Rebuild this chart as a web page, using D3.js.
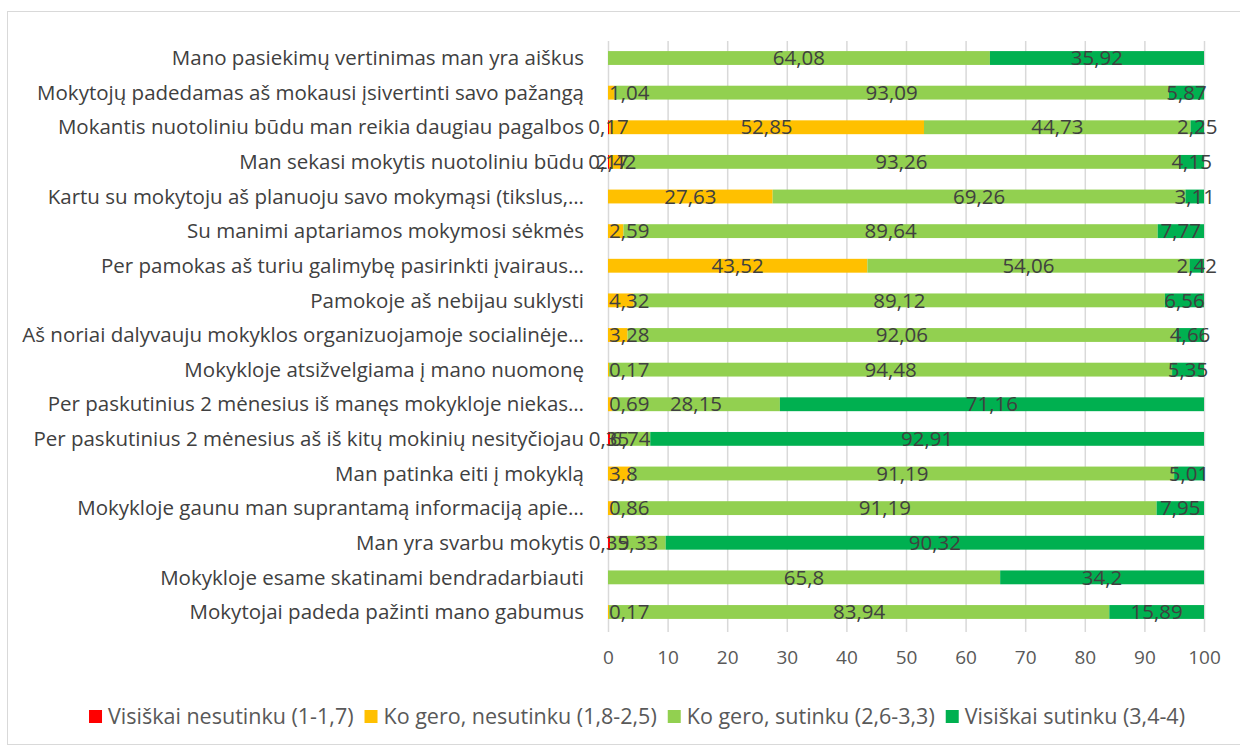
<!DOCTYPE html>
<html>
  <head>
    <meta charset="UTF-8" />
    <title>Mokinių apklausa</title>
    <script src="https://d3js.org/d3.v7.min.js"></script>
    <style>
      * {
        margin: 0;
        padding: 0;
        box-sizing: border-box;
      }
      body {
        background-color: #ffffff;
      }
      svg {
        display: block;
        font-family: "Open Sans", sans-serif;
      }
      .cat-label {
        fill: #404040;
        font-size: 20.5px;
      }
      .value-label {
        fill: #404040;
        font-size: 20.5px;
      }
      .tick text {
        fill: #595959;
        font-size: 19px;
      }
      .legend-text {
        fill: #595959;
        font-size: 21.5px;
      }
    </style>
  </head>
  <body>
    <svg id="chart" width="1240" height="747"></svg>
  </body>
  <script>
    const categories = [
      "Mano pasiekimų vertinimas man yra aiškus",
      "Mokytojų padedamas aš mokausi įsivertinti savo pažangą",
      "Mokantis nuotoliniu būdu man reikia daugiau pagalbos",
      "Man sekasi mokytis nuotoliniu būdu",
      "Kartu su mokytoju aš planuoju savo mokymąsi (tikslus,…",
      "Su manimi aptariamos mokymosi sėkmės",
      "Per pamokas aš turiu galimybę pasirinkti įvairaus…",
      "Pamokoje aš nebijau suklysti",
      "Aš noriai dalyvauju mokyklos organizuojamoje socialinėje…",
      "Mokykloje atsižvelgiama į mano nuomonę",
      "Per paskutinius 2 mėnesius iš manęs mokykloje niekas…",
      "Per paskutinius 2 mėnesius aš iš kitų mokinių nesityčiojau",
      "Man patinka eiti į mokyklą",
      "Mokykloje gaunu man suprantamą informaciją apie…",
      "Man yra svarbu mokytis",
      "Mokykloje esame skatinami bendradarbiauti",
      "Mokytojai padeda pažinti mano gabumus"
    ];

    const seriesNames = [
      "Visiškai nesutinku (1-1,7)",
      "Ko gero, nesutinku (1,8-2,5)",
      "Ko gero, sutinku (2,6-3,3)",
      "Visiškai sutinku (3,4-4)"
    ];
    const seriesColors = ["#ff0000", "#ffc000", "#92d050", "#00b050"];

    const disagreeFully = [0, 0, 0.17, 0.17, 0, 0, 0, 0, 0, 0, 0, 0.35, 0, 0, 0.35, 0, 0];
    const disagreeRather = [0, 1.04, 52.85, 2.42, 27.63, 2.59, 43.52, 4.32, 3.28, 0.17, 0.69, 0, 3.8, 0.86, 0, 0, 0.17];
    const agreeRather = [64.08, 93.09, 44.73, 93.26, 69.26, 89.64, 54.06, 89.12, 92.06, 94.48, 28.15, 6.74, 91.19, 91.19, 9.33, 65.8, 83.94];
    const agreeFully = [35.92, 5.87, 2.25, 4.15, 3.11, 7.77, 2.42, 6.56, 4.66, 5.35, 71.16, 92.91, 5.01, 7.95, 90.32, 34.2, 15.89];

    const xTicks = [0, 10, 20, 30, 40, 50, 60, 70, 80, 90, 100];

    // build rows for d3.stack
    const rows = categories.map((c, i) => ({
      cat: c,
      s0: disagreeFully[i],
      s1: disagreeRather[i],
      s2: agreeRather[i],
      s3: agreeFully[i]
    }));
    const keys = ["s0", "s1", "s2", "s3"];
    const stacked = d3.stack().keys(keys)(rows);

    const svg = d3.select("#chart");

    // outer border
    svg.append("rect")
      .attr("x", 7.5).attr("y", 11.5)
      .attr("width", 1240).attr("height", 733)
      .attr("fill", "none")
      .attr("stroke", "#d9d9d9");

    const x = d3.scaleLinear().domain([0, 100]).range([608, 1204]);
    const y = d3.scaleBand()
      .domain(categories)
      .range([40.7, 629.3])
      .paddingInner(0.6)
      .paddingOuter(0.3);

    // gridlines + tick labels
    const axis = svg.append("g")
      .attr("transform", "translate(0,632)")
      .call(d3.axisBottom(x).tickValues(xTicks).tickSize(-591).tickPadding(19).tickFormat(d3.format("d")));
    axis.select(".domain").remove();
    axis.selectAll(".tick line").attr("stroke", "#d9d9d9").attr("stroke-width", 1.5);
    axis.selectAll(".tick text").attr("font-family", "Open Sans, sans-serif");

    // category labels
    svg.append("g")
      .selectAll("text")
      .data(categories)
      .join("text")
      .attr("class", "cat-label")
      .attr("x", 584)
      .attr("y", (d) => y(d) + y.bandwidth() / 2)
      .attr("dy", "0.35em")
      .attr("text-anchor", "end")
      .text((d) => d);

    // bars
    stacked.forEach((layer, si) => {
      svg.append("g")
        .attr("fill", seriesColors[si])
        .selectAll("rect")
        .data(layer)
        .join("rect")
        .attr("x", (d) => x(d[0]))
        .attr("y", (d) => y(d.data.cat))
        .attr("width", (d) => x(d[1]) - x(d[0]))
        .attr("height", y.bandwidth());
    });

    // value labels
    const fmt = (v) => String(v).replace(".", ",");
    stacked.forEach((layer, si) => {
      layer.forEach((d) => {
        const v = d[1] - d[0];
        if (v <= 0) return;
        const cx = (x(d[0]) + x(d[1])) / 2;
        const t = svg.append("text")
          .attr("class", "value-label")
          .attr("y", y(d.data.cat) + y.bandwidth() / 2)
          .attr("dy", "0.35em")
          .attr("text-anchor", "middle")
          .text(fmt(+v.toFixed(2)));
        let lx = cx;
        const w = t.node().getComputedTextLength();
        // small "rather disagree" labels sit at the bar base
        if (si === 1 && d[0] === 0 && w > x(d[1]) - x(d[0])) {
          lx = x(0) + w / 2 + 1;
        }
        t.attr("x", lx);
      });
    });

    // legend
    const legend = svg.append("g");
    let lx = 0;
    seriesNames.forEach((name, i) => {
      const g = legend.append("g").attr("transform", `translate(${lx},0)`);
      g.append("rect")
        .attr("x", 0).attr("y", -6)
        .attr("width", 13).attr("height", 13)
        .attr("fill", seriesColors[i]);
      const t = g.append("text")
        .attr("class", "legend-text")
        .attr("x", 19)
        .attr("dy", "0.35em")
        .text(name);
      lx += 19 + t.node().getComputedTextLength() + 11;
    });
    const total = lx - 11;
    legend.attr("transform", `translate(${637 - total / 2},716)`);
  </script>
</html>
